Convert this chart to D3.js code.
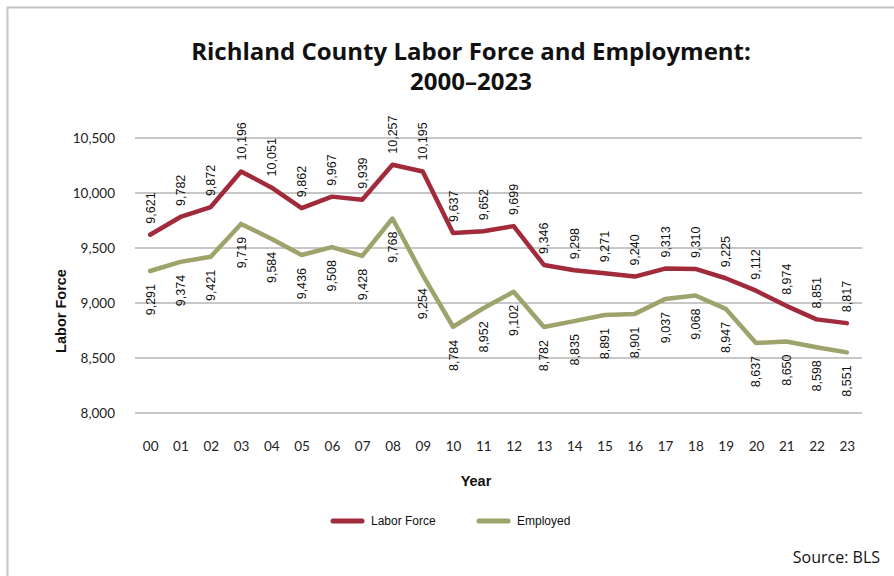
<!DOCTYPE html>
<html>
<head>
<meta charset="utf-8">
<script src="https://cdn.jsdelivr.net/npm/d3@7"></script>
<style>
  html, body { margin: 0; padding: 0; background: #fff; }
  svg { display: block; }
</style>
</head>
<body>
<svg id="chart" width="894" height="576"></svg>
<script>
// Years 2000–2023, shown as two-digit labels
const years = ["00","01","02","03","04","05","06","07","08","09","10","11",
               "12","13","14","15","16","17","18","19","20","21","22","23"];
const laborForce = [9621, 9782, 9872, 10196, 10051, 9862, 9967, 9939, 10257, 10195, 9637, 9652,
                    9699, 9346, 9298, 9271, 9240, 9313, 9310, 9225, 9112, 8974, 8851, 8817];
const employed = [9291, 9374, 9421, 9719, 9584, 9436, 9508, 9428, 9768, 9254, 8784, 8952,
                  9102, 8782, 8835, 8891, 8901, 9037, 9068, 8947, 8637, 8650, 8598, 8551];
const yTicks = [8000, 8500, 9000, 9500, 10000, 10500];

const seriesList = [
  { name: "Labor Force", values: laborForce, color: "#a12a3b", above: true },
  { name: "Employed", values: employed, color: "#9da36b", above: false }
];

const svg = d3.select("#chart");
const W = 894, H = 576;
const margin = { left: 135, right: 32, top: 138, bottom: 163 };

// Outer frame (top and left edges)
svg.append("path")
  .attr("d", `M7.5,${H} L7.5,7.5 L${W},7.5`)
  .attr("fill", "none").attr("stroke", "#c4c4c4").attr("stroke-width", 2);

const x = d3.scalePoint().domain(years)
  .range([margin.left, W - margin.right]).padding(0.5);
const y = d3.scaleLinear().domain([8000, 10500])
  .range([H - margin.bottom, margin.top]);

// Title
const title = svg.append("text")
  .attr("x", 471).attr("text-anchor", "middle")
  .style("font-family", "'Open Sans', Lato, sans-serif")
  .style("font-weight", "700").style("font-size", "24px").attr("fill", "#111");
title.append("tspan").attr("x", 471).attr("y", 60).text("Richland County Labor Force and Employment:");
title.append("tspan").attr("x", 471).attr("y", 90).text("2000–2023");

// Horizontal gridlines
svg.append("g").selectAll("line").data(yTicks).join("line")
  .attr("x1", margin.left).attr("x2", W - margin.right)
  .attr("y1", d => y(d)).attr("y2", d => y(d))
  .attr("stroke", "#b4b4b4").attr("stroke-width", 1.3);

// Y axis tick labels
const yAxis = svg.append("g")
  .attr("transform", `translate(${margin.left - 20},0)`)
  .call(d3.axisLeft(y).tickValues(yTicks).tickFormat(d3.format(",")).tickSize(0).tickPadding(0));
yAxis.select(".domain").remove();
yAxis.selectAll("text")
  .style("font-family", "Lato, 'Open Sans', sans-serif")
  .style("font-size", "13.5px").attr("fill", "#222");

// X axis tick labels
const xAxis = svg.append("g")
  .attr("transform", `translate(0,${y(8000) + 28})`)
  .call(d3.axisBottom(x).tickSize(0).tickPadding(0));
xAxis.select(".domain").remove();
xAxis.selectAll("text")
  .style("font-family", "Lato, 'Open Sans', sans-serif")
  .style("font-size", "13.5px").attr("fill", "#222");

// Axis titles
svg.append("text")
  .attr("transform", "translate(66,311) rotate(-90)")
  .attr("text-anchor", "middle")
  .style("font-family", "'Liberation Sans', Arial, sans-serif")
  .style("font-weight", "700").style("font-size", "14.5px").attr("fill", "#111")
  .text("Labor Force");
svg.append("text")
  .attr("x", 476).attr("y", 486).attr("text-anchor", "middle")
  .style("font-family", "'Liberation Sans', Arial, sans-serif")
  .style("font-weight", "700").style("font-size", "14.5px").attr("fill", "#111")
  .text("Year");

// Lines and value labels
const line = d3.line().x((d, i) => x(years[i])).y(d => y(d));

seriesList.forEach(s => {
  svg.append("path")
    .datum(s.values)
    .attr("d", line)
    .attr("fill", "none")
    .attr("stroke", s.color)
    .attr("stroke-width", 4.5)
    .attr("stroke-linejoin", "round")
    .attr("stroke-linecap", "round");

  svg.append("g").selectAll("text").data(s.values).join("text")
    .attr("transform", (d, i) => {
      const px = x(years[i]) + 4.5;
      const py = s.above ? y(d) - 11 : y(d) + 13;
      return `translate(${px},${py}) rotate(-90)`;
    })
    .attr("text-anchor", s.above ? "start" : "end")
    .style("font-family", "'Liberation Sans', Arial, sans-serif")
    .style("font-size", "12.5px").attr("fill", "#111")
    .text(d => d3.format(",")(d));
});

// Legend
const legend = svg.append("g");
seriesList.forEach((s, i) => {
  const lx = 333 + i * 146;
  legend.append("line")
    .attr("x1", lx).attr("x2", lx + 29).attr("y1", 521).attr("y2", 521)
    .attr("stroke", s.color).attr("stroke-width", 5).attr("stroke-linecap", "round");
  legend.append("text")
    .attr("x", lx + 38).attr("y", 525)
    .style("font-family", "'Liberation Sans', Arial, sans-serif")
    .style("font-size", "12px").attr("fill", "#111")
    .text(s.name);
});

// Source note
svg.append("text")
  .attr("x", 880).attr("y", 563).attr("text-anchor", "end")
  .style("font-family", "'Open Sans', 'Noto Sans', sans-serif")
  .style("font-size", "16px").attr("fill", "#111")
  .text("Source: BLS");
</script>
</body>
</html>
